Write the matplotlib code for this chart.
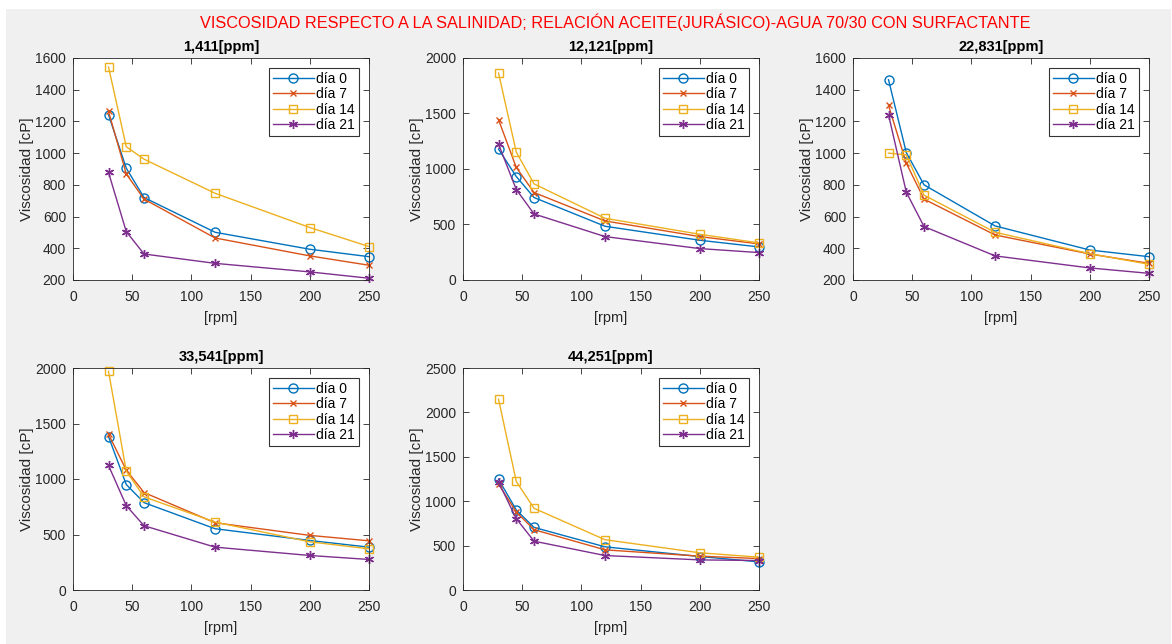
import matplotlib
matplotlib.use('Agg')
import matplotlib.pyplot as plt
from matplotlib.patches import Rectangle

plt.rcParams['font.family'] = ['Liberation Sans', 'DejaVu Sans']

# rpm values (same for every panel)
rpm = [30, 45, 60, 120, 200, 250]

titles = ['1,411[ppm]', '12,121[ppm]', '22,831[ppm]', '33,541[ppm]', '44,251[ppm]']
labels = ['día 0', 'día 7', 'día 14', 'día 21']

# viscosity [cP] per panel, order: dia 0, dia 7, dia 14, dia 21
visc_1411 = [
    [1242, 905, 720, 501, 394, 347],
    [1263, 869, 710, 465, 352, 293],
    [1543, 1040, 962, 747, 531, 411],
    [878, 505, 364, 305, 251, 211],
]
visc_12121 = [
    [1179, 932, 743, 484, 358, 298],
    [1444, 1014, 788, 532, 391, 325],
    [1865, 1152, 866, 556, 412, 334],
    [1224, 815, 595, 391, 283, 247],
]
visc_22831 = [
    [1463, 1004, 800, 541, 389, 347],
    [1301, 937, 710, 484, 364, 305],
    [1000, 989, 735, 501, 366, 299],
    [1242, 754, 537, 352, 276, 242],
]
visc_33541 = [
    [1382, 950, 787, 552, 446, 386],
    [1403, 1080, 878, 606, 492, 443],
    [1970, 1071, 839, 612, 434, 371],
    [1122, 760, 579, 386, 311, 275],
]
visc_44251 = [
    [1248, 901, 705, 486, 377, 317],
    [1192, 879, 679, 452, 381, 354],
    [2149, 1222, 920, 566, 419, 370],
    [1218, 803, 550, 388, 339, 332],
]
all_visc = [visc_1411, visc_12121, visc_22831, visc_33541, visc_44251]

ylims = [(200, 1600), (0, 2000), (200, 1600), (0, 2000), (0, 2500)]
yticks = [range(200, 1601, 200), range(0, 2001, 500), range(200, 1601, 200),
          range(0, 2001, 500), range(0, 2501, 500)]

colors = ['#0072BD', '#D95319', '#EDB120', '#7E2F8E']
markers = ['o', 'x', 's', (6, 2, 0)]  # last one = asterisk like matlab '*'
msizes = [6.5, 5, 5.5, 6.5]

W, H = 1172, 644
fig = plt.figure(figsize=(W / 100, H / 100), dpi=100, facecolor='white')
# grey figure area with white strip at top/left like the source window
fig.patches.append(Rectangle((6 / W, 0), 1 - 7 / W, 1 - 9 / H, transform=fig.transFigure,
                             facecolor='#f0f0f0', edgecolor='none', zorder=-5))

fig.text(615 / W, 1 - 22 / H,
         'VISCOSIDAD RESPECTO A LA SALINIDAD; RELACIÓN ACEITE(JURÁSICO)-AGUA 70/30 CON SURFACTANTE',
         color='#ff0000', fontsize=11.7, ha='center', va='center')

lefts = [73, 463, 853, 73, 463]
tops = [58, 58, 58, 368, 368]
aw, ah = 296, 222

grey = '#262626'
for i in range(5):
    ax = fig.add_axes([lefts[i] / W, 1 - (tops[i] + ah) / H, aw / W, ah / H])
    for j in range(4):
        ax.plot(rpm, all_visc[i][j], color=colors[j], marker=markers[j],
                markersize=msizes[j], markerfacecolor='none', markeredgewidth=1,
                linewidth=1, label=labels[j], clip_on=False)
    ax.set_xlim(0, 250)
    ax.set_ylim(*ylims[i])
    ax.set_xticks(range(0, 251, 50))
    ax.set_yticks(list(yticks[i]))
    ax.tick_params(direction='in', top=True, right=True, labelsize=10,
                   colors=grey, length=4, width=0.6)
    ax.tick_params(axis='x', pad=7)
    ax.tick_params(axis='y', pad=5)
    for s in ax.spines.values():
        s.set_color(grey)
        s.set_linewidth(0.6)
    ax.set_title(titles[i], fontsize=10.5, fontweight='bold', color='black', pad=5)
    ax.set_xlabel('[rpm]', fontsize=10.5, color=grey, labelpad=5)
    ax.set_ylabel('Viscosidad [cP]', fontsize=11, color=grey, labelpad=1)
    leg = ax.legend(loc='upper right', fontsize=10, handlelength=3.0,
                    borderaxespad=0.75, frameon=True, fancybox=False,
                    handletextpad=0.15, labelspacing=0.1, borderpad=0.25)
    leg.get_frame().set_edgecolor('black')
    leg.get_frame().set_linewidth(0.8)

fig.savefig('out.png', dpi=100, facecolor=fig.get_facecolor())
